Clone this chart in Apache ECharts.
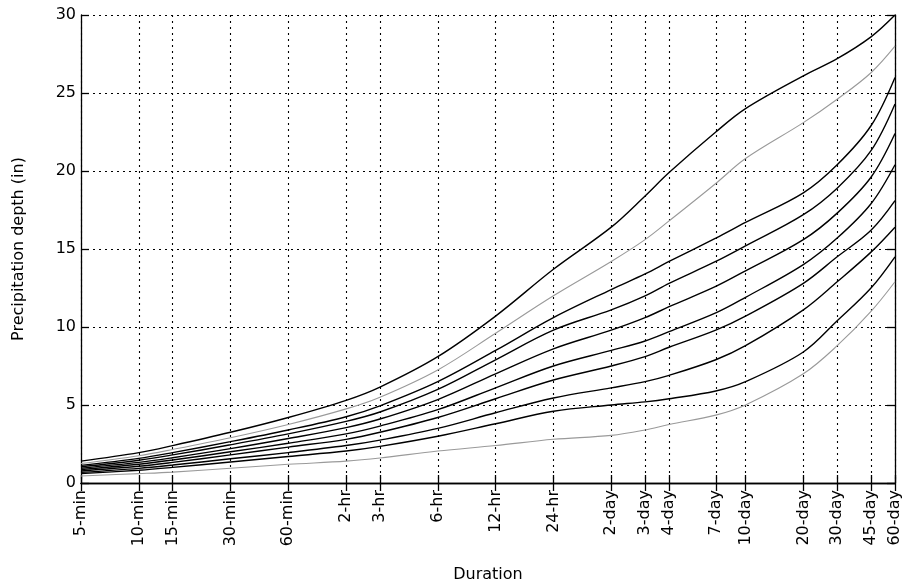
<!DOCTYPE html>
<html>
<head>
<meta charset="utf-8">
<script src="https://cdn.jsdelivr.net/npm/echarts@6/dist/echarts.min.js"></script>
<style>html,body{margin:0;padding:0;background:#fff}#c{width:903px;height:588px}</style>
</head>
<body>
<div id="c"></div>
<script>
// Durations (minutes) and their tick labels
const durationMinutes = [5, 10, 15, 30, 60, 120, 180, 360, 720, 1440, 2880, 4320, 5760, 10080, 14400, 28800, 43200, 64800, 86400];
const durationLabels = ['5-min','10-min','15-min','30-min','60-min','2-hr','3-hr','6-hr','12-hr','24-hr','2-day','3-day','4-day','7-day','10-day','20-day','30-day','45-day','60-day'];

// Precipitation depth (in) for each curve, highest to lowest
const curve1  = [1.40, 1.95, 2.40, 3.25, 4.20, 5.30, 6.15, 8.10, 10.7, 13.7, 16.4, 18.4, 19.9, 22.5, 24.0, 26.1, 27.2, 28.6, 30.0];
const curve2  = [1.25, 1.75, 2.15, 2.90, 3.75, 4.75, 5.50, 7.25, 9.60, 12.0, 14.2, 15.6, 16.8, 19.2, 20.8, 23.1, 24.6, 26.3, 28.0];
const curve3  = [1.13, 1.58, 1.95, 2.65, 3.40, 4.25, 4.95, 6.50, 8.50, 10.6, 12.4, 13.4, 14.2, 15.7, 16.7, 18.6, 20.4, 22.9, 26.0];
const curve4  = [1.04, 1.46, 1.80, 2.45, 3.15, 3.95, 4.55, 6.00, 7.90, 9.80, 11.1, 12.0, 12.8, 14.2, 15.2, 17.2, 18.9, 21.3, 24.3];
const curve5  = [0.95, 1.32, 1.62, 2.20, 2.85, 3.55, 4.10, 5.35, 7.00, 8.60, 9.80, 10.6, 11.3, 12.6, 13.6, 15.6, 17.3, 19.6, 22.4];
const curve6  = [0.86, 1.20, 1.47, 2.00, 2.55, 3.15, 3.65, 4.70, 6.10, 7.50, 8.50, 9.10, 9.70, 10.9, 11.9, 14.0, 15.7, 17.9, 20.4];
const curve7  = [0.77, 1.07, 1.32, 1.80, 2.30, 2.80, 3.25, 4.20, 5.40, 6.60, 7.50, 8.10, 8.70, 9.80, 10.7, 12.8, 14.5, 16.2, 18.1];
const curve8  = [0.68, 0.94, 1.15, 1.55, 1.95, 2.40, 2.75, 3.50, 4.50, 5.45, 6.10, 6.50, 6.90, 7.90, 8.80, 11.1, 12.9, 14.8, 16.4];
const curve9  = [0.60, 0.82, 1.00, 1.35, 1.70, 2.05, 2.35, 3.00, 3.80, 4.60, 5.00, 5.20, 5.40, 5.90, 6.50, 8.40, 10.4, 12.5, 14.5];
const curve10 = [0.45, 0.60, 0.70, 0.95, 1.20, 1.40, 1.60, 2.05, 2.40, 2.80, 3.05, 3.40, 3.75, 4.35, 5.00, 7.00, 8.80, 11.0, 12.9];

const curves = [curve1, curve2, curve3, curve4, curve5, curve6, curve7, curve8, curve9, curve10];
const curveColors = ['#000','#9a9a9a','#000','#000','#000','#000','#000','#000','#000','#9a9a9a'];

const font = 'DejaVu Sans';
const gridLine = {show: true, lineStyle: {color: '#000', type: [2, 4], width: 1.1}};
const axLine = {show: true, lineStyle: {color: '#000', width: 1.3}};

const chart = echarts.init(document.getElementById('c'), null, {renderer: 'canvas'});
const xBase = {
  type: 'log', logBase: 10, min: 5, max: 86400,
  axisLine: axLine,
  axisTick: {show: true, inside: true, length: 8, customValues: durationMinutes, lineStyle: {color: '#000', width: 1.3}},
  minorTick: {show: false}, minorSplitLine: {show: false}
};
const yBase = {
  type: 'value', min: 0, max: 30, interval: 5,
  axisLine: axLine,
  axisTick: {show: true, inside: true, length: 8, lineStyle: {color: '#000', width: 1.3}}
};

chart.setOption({
  backgroundColor: '#fff',
  animation: false,
  grid: {left: 81, right: 6, top: 15, bottom: 104, containLabel: false},
  xAxis: [
    Object.assign({}, xBase, {
      position: 'bottom',
      name: 'Duration', nameLocation: 'middle', nameGap: 84,
      nameTextStyle: {fontFamily: font, fontSize: 16, color: '#000'},
      splitLine: gridLine,
      axisLabel: {
        show: true, rotate: 90, margin: 7, fontFamily: font, fontSize: 16, color: '#000',
        customValues: durationMinutes,
        formatter: function (v) {
          let best = 0, bd = Infinity;
          durationMinutes.forEach(function (m, i) { const d = Math.abs(Math.log(m) - Math.log(v)); if (d < bd) { bd = d; best = i; } });
          return durationLabels[best];
        }
      }
    }),
    Object.assign({}, xBase, {position: 'top', splitLine: {show: false}, axisLabel: {show: false}})
  ],
  yAxis: [
    Object.assign({}, yBase, {
      position: 'left',
      name: 'Precipitation depth (in)', nameLocation: 'middle', nameGap: 54, nameRotate: 90,
      nameTextStyle: {fontFamily: font, fontSize: 16, color: '#000'},
      splitLine: gridLine,
      axisLabel: {show: true, margin: 5, fontFamily: font, fontSize: 16, color: '#000'}
    }),
    Object.assign({}, yBase, {position: 'right', splitLine: {show: false}, axisLabel: {show: false}})
  ],
  series: curves.map(function (c, i) {
    return {
      type: 'line', xAxisIndex: 0, yAxisIndex: 0,
      data: durationMinutes.map(function (m, j) { return [m, c[j]]; }),
      showSymbol: false, symbol: 'none', smooth: 0.35,
      lineStyle: {color: curveColors[i], width: curveColors[i] === '#000' ? 1.4 : 1.1},
      z: 3
    };
  })
});
</script>
</body>
</html>
